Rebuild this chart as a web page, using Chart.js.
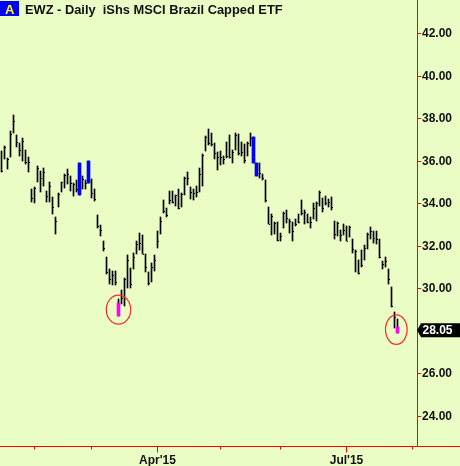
<!DOCTYPE html>
<html>
<head>
<meta charset="utf-8">
<title>EWZ - Daily</title>
<script src="https://cdn.jsdelivr.net/npm/chart.js@4"></script>
<style>
  html, body { margin: 0; padding: 0; background: #eafdc4; }
  canvas { display: block; }
</style>
</head>
<body>
<canvas id="chart" width="460" height="466"></canvas>
<script>
const titleText = "EWZ - Daily  iShs MSCI Brazil Capped ETF";
const lastPrice = 28.05;
const yTickValues = [24, 26, 28, 30, 32, 34, 36, 38, 40, 42];

const highs = [36.49,36.73,36.16,37.45,38.19,37.25,36.87,37.11,36.54,36.21,
  34.71,34.80,35.79,35.55,35.69,34.61,35.02,34.34,33.39,34.52,
  35.05,35.41,35.65,35.32,34.99,35.13,35.93,35.32,35.13,36.02,
  35.16,34.71,33.48,33.01,32.27,31.51,30.94,30.85,30.85,29.53,
  29.95,30.50,31.60,30.99,31.69,32.26,32.62,32.53,31.65,30.80,
  31.22,31.59,32.70,33.39,34.19,33.81,34.61,34.63,34.44,34.69,
  34.50,35.26,35.49,34.79,34.69,34.85,35.69,36.34,37.20,37.53,
  37.33,36.88,36.43,36.49,36.27,36.93,37.25,36.54,37.33,37.28,
  36.90,36.81,36.90,37.33,37.14,35.91,35.91,35.41,35.13,33.84,
  33.53,33.17,33.14,32.65,33.64,33.70,33.28,33.14,33.28,33.51,
  34.19,33.72,33.51,33.40,34.03,34.08,34.61,34.30,34.39,34.23,
  34.31,33.20,33.14,32.78,33.04,32.98,32.98,32.35,31.84,31.36,
  31.84,32.07,32.62,32.92,32.73,32.73,32.34,31.33,31.49,30.94,
  30.08,28.92,28.59];

const lows = [35.51,36.13,35.65,36.23,37.36,36.70,36.27,36.04,35.88,35.52,
  34.11,34.06,35.05,34.58,34.85,34.11,34.11,33.54,32.59,33.83,
  34.55,34.77,34.95,34.63,34.39,34.58,34.42,34.69,34.72,34.99,
  34.30,34.15,32.87,32.49,31.79,30.71,30.22,30.16,30.19,28.74,
  29.29,29.20,30.05,30.03,30.95,31.63,31.84,31.63,30.77,30.16,
  30.34,30.86,31.94,32.60,33.59,33.40,34.01,34.03,33.92,33.75,
  33.84,34.42,34.89,34.23,34.19,34.34,34.58,34.85,36.51,36.78,
  36.73,36.12,35.61,35.84,35.88,36.18,36.18,35.94,36.54,36.31,
  36.27,35.91,36.27,36.73,35.91,35.33,35.24,35.14,34.08,33.03,
  32.55,32.57,32.23,32.23,32.88,33.12,32.62,32.23,32.98,33.09,
  33.50,33.04,33.09,32.88,33.28,33.21,33.92,33.64,33.97,33.83,
  33.72,32.35,32.51,32.23,32.54,32.23,32.46,31.71,30.81,30.72,
  31.05,31.36,31.88,32.34,32.15,32.10,31.47,30.94,31.05,30.24,
  29.14,28.15,27.94];

const closes = [35.55,36.70,36.09,37.29,37.91,36.92,36.54,36.96,35.98,35.98,
  34.30,34.75,35.71,35.22,35.51,34.38,34.85,33.87,33.21,34.47,
  35.03,35.36,35.41,34.99,34.94,34.71,null,35.18,34.96,null,
  34.52,34.23,32.96,32.78,31.93,30.77,30.48,30.63,30.34,null,
  29.58,30.47,31.36,30.24,31.52,32.12,32.16,31.65,31.04,30.28,
  31.05,31.36,32.23,33.21,33.68,33.48,34.19,34.11,34.42,33.81,
  34.46,35.21,35.22,34.58,34.50,34.58,35.41,36.31,37.14,36.86,
  36.82,36.41,36.23,36.23,36.12,36.27,36.23,36.46,37.25,36.39,
  36.46,36.07,36.86,37.11,null,null,35.44,35.22,34.16,33.06,
  33.43,33.12,32.31,32.49,33.59,33.33,33.21,32.74,33.03,33.15,
  33.59,33.64,33.17,33.14,33.80,34.03,34.55,33.80,34.03,34.11,
  33.83,32.57,33.09,32.54,32.78,32.26,32.93,31.87,31.79,30.75,
  31.10,31.91,32.59,32.73,32.41,32.35,31.52,31.16,31.32,30.47,
  29.20,28.67,null];

// painted days
const blueDays = [26, 29, 84, 85];
const pinkDays = [39, 132];
const pinkBodyTops = [29.33, 28.20];

// x axis
const slotCount = 139;
const monthLabels = { 52: "Apr'15", 115: "Jul'15" };
const majorTicks = [52, 115];
const minorTicks = [11, 30, 73, 93, 137];

// red rings, [day, price]
const rings = [[39, 29.02], [131.6, 28.08]];

const labels = [];
for (let i = 0; i < slotCount; i++) labels.push(monthLabels[i] || '');

const hiLo = highs.map((h, i) => [lows[i], h]);
const blueBars = highs.map((h, i) => blueDays.includes(i) ? [lows[i], h] : null);
const pinkBars = highs.map((h, i) => {
  const p = pinkDays.indexOf(i);
  return p >= 0 ? [lows[i], pinkBodyTops[p]] : null;
});

// close tick sticks out to the right of the bar
const closeTick = document.createElement('canvas');
closeTick.width = 5;
closeTick.height = 1;
const tickCtx = closeTick.getContext('2d');
tickCtx.fillStyle = '#000';
tickCtx.fillRect(3, 0, 1, 1);

const RED = '#ff0000';

// keep the bars and close ticks on whole pixels so they stay sharp
const snapToPixels = {
  id: 'snapToPixels',
  beforeDatasetsDraw(chart) {
    chart.data.datasets.forEach((d, i) => {
      chart.getDatasetMeta(i).data.forEach(el => {
        if (d.type === 'line') el.y = Math.round(el.y) + 0.5;
        else {
          el.y = Math.round(el.y);
          el.base = Math.round(el.base);
        }
      });
    });
  }
};

const decorations = {
  id: 'decorations',
  afterDraw(chart) {
    const c = chart.ctx, x = chart.scales.x, y = chart.scales.y;
    const axisY = chart.chartArea.bottom + 0.5;
    c.save();

    // bottom axis runs on past the price axis
    c.strokeStyle = RED;
    c.lineWidth = 1;
    c.beginPath();
    c.moveTo(0, axisY);
    c.lineTo(460, axisY);
    majorTicks.forEach(i => {
      c.moveTo(x.getPixelForValue(i), axisY);
      c.lineTo(x.getPixelForValue(i), axisY + 6);
    });
    minorTicks.forEach(i => {
      c.moveTo(x.getPixelForValue(i), axisY);
      c.lineTo(x.getPixelForValue(i), axisY + 3);
    });
    c.stroke();

    // rings around the pink days
    c.lineWidth = 1.2;
    c.strokeStyle = '#f52b2b';
    rings.forEach((r, n) => {
      c.beginPath();
      c.ellipse(x.getPixelForValue(r[0]), y.getPixelForValue(r[1]), n ? 10.8 : 12.2, n ? 14.8 : 14.5, 0, 0, Math.PI * 2);
      c.stroke();
    });

    // last price flag
    const py = y.getPixelForValue(lastPrice);
    c.fillStyle = '#000';
    c.beginPath();
    c.moveTo(417, py);
    c.lineTo(421, py - 7);
    c.lineTo(460, py - 7);
    c.lineTo(460, py + 7);
    c.lineTo(421, py + 7);
    c.closePath();
    c.fill();
    c.fillStyle = '#fff';
    c.font = 'bold 12px "Liberation Sans"';
    c.textBaseline = 'middle';
    c.fillText(lastPrice.toFixed(2), 422.5, py + 0.5);

    // header
    c.fillStyle = '#0000ff';
    c.fillRect(0, 1, 19, 15);
    c.fillStyle = '#ffff00';
    c.font = 'bold 13px "Liberation Sans"';
    c.textBaseline = 'alphabetic';
    c.fillText('A', 5, 14);
    c.fillStyle = '#111';
    c.font = 'bold 12.85px "Liberation Sans"';
    c.fillText(titleText, 25, 14);
    c.restore();
  }
};

new Chart(document.getElementById('chart'), {
  data: {
    labels: labels,
    datasets: [
      { type: 'line', data: closes, showLine: false, pointStyle: closeTick, pointRadius: 3, order: 0 },
      { type: 'bar', data: blueBars, backgroundColor: '#0000ff', barThickness: 3, grouped: false, order: 1 },
      { type: 'bar', data: pinkBars, backgroundColor: '#ff00ff', barThickness: 3, grouped: false, order: 1 },
      { type: 'bar', data: hiLo, backgroundColor: '#000', barThickness: 1, grouped: false, order: 2 }
    ]
  },
  options: {
    responsive: false,
    animation: false,
    devicePixelRatio: 1,
    layout: { padding: 0, autoPadding: false },
    plugins: { legend: { display: false }, tooltip: { enabled: false } },
    scales: {
      x: {
        type: 'category',
        offset: true,
        afterFit(s) { s.height = 20; s.paddingLeft = 0; s.paddingRight = 0; },
        grid: { display: false, drawTicks: false, tickLength: 0 },
        border: { display: false },
        ticks: {
          autoSkip: false,
          maxRotation: 0,
          padding: 7,
          color: '#111',
          font: { family: 'Liberation Sans', size: 12, weight: 'bold' }
        }
      },
      y: {
        position: 'right',
        min: 22.6,
        max: 43.6,
        afterFit(s) { s.width = 43; s.paddingTop = 0; s.paddingBottom = 0; },
        afterBuildTicks(s) { s.ticks = yTickValues.map(v => ({ value: v })); },
        grid: { drawOnChartArea: false, tickLength: 4, tickColor: RED },
        border: { color: RED },
        ticks: {
          padding: 1,
          color: '#111',
          callback: v => v.toFixed(2),
          font: { family: 'Liberation Sans', size: 12, weight: 'bold' }
        }
      }
    }
  },
  plugins: [snapToPixels, decorations]
});
</script>
</body>
</html>
